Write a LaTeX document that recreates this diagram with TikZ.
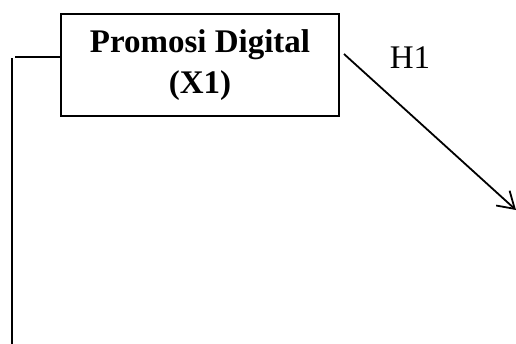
\documentclass[tikz,border=0pt]{standalone}
\usepackage{fontspec}
\setmainfont{Liberation Serif}
\usetikzlibrary{arrows.meta}

\begin{document}
\begin{tikzpicture}[
	x=0.5pt, y=-0.5pt,
	font=\fontsize{16.5}{17.5}\selectfont,
	variabel/.style={draw, line width=1.1pt, minimum width=139pt, minimum height=51pt, align=center},
	garis/.style={line width=0.9pt},
	panah/.style={garis, -{Straight Barb[length=8pt, width=10pt]}}
]
	\useasboundingbox (0,0) rectangle (516,344);
	\node[variabel] (x1) at (200,65) {\textbf{Promosi Digital}\\[3pt] \textbf{(X1)}};
	\coordinate (kiri) at (15,57);
	\coordinate (atas) at (12,58);
	\coordinate (bawah) at (12,344);
	\coordinate (mulai) at (344,54);
	\coordinate (ujung) at (516,210);
	\draw[garis] (x1.west |- kiri) -- (kiri);
	\draw[garis] (atas) -- (bawah);
	\draw[panah] (mulai) -- (ujung);
	\node (h1) at (410,58) {H1};
\end{tikzpicture}
\end{document}
